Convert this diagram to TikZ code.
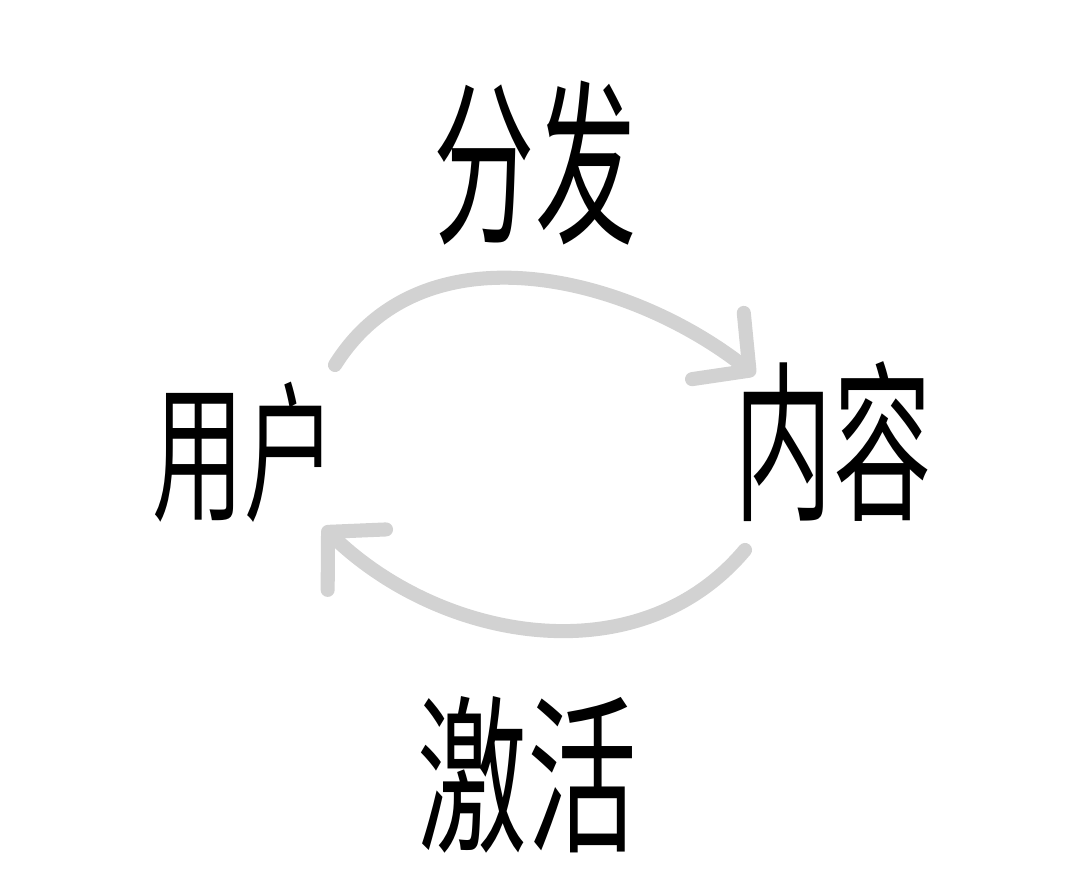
\documentclass[tikz,border=0pt]{standalone}
\usepackage{fontspec}
\newfontfamily\cjk{Noto Sans CJK SC}
\usetikzlibrary{arrows.meta}

\begin{document}
\begin{tikzpicture}
\begin{scope}[x=0.025cm,y=0.025cm]
\useasboundingbox[fill=white] (0,0) rectangle (1080,893);
% words
\node[inner sep=0] (dist) at (535,730) {\scalebox{1}[1.75]{\cjk\fontsize{72}{72}\selectfont 分发}};
\node[inner sep=0] (user) at (244,441) {\scalebox{1}[1.65]{\cjk\fontsize{65}{65}\selectfont 用户}};
\node[inner sep=0] (content) at (833,451) {\scalebox{1}[1.75]{\cjk\fontsize{70}{70}\selectfont 内容}};
\node[inner sep=0] (activate) at (527,118) {\scalebox{1}[1.55]{\cjk\fontsize{78}{78}\selectfont 激活}};
% ends of the arcs
\coordinate (topstart) at (335,528);
\coordinate (topend) at (755,518);
\coordinate (botstart) at (745,343);
\coordinate (botend) at (323,366);
\draw[gray!35,line width=10pt,line cap=round,-{Straight Barb[length=1cm,width=2.1cm,round]}] (topstart) to[out=58,in=142] (topend);
\draw[gray!35,line width=10pt,line cap=round,-{Straight Barb[length=1cm,width=2.1cm,round]}] (botstart) to[out=-130,in=-44] (botend);
\end{scope}
\end{tikzpicture}
\end{document}
